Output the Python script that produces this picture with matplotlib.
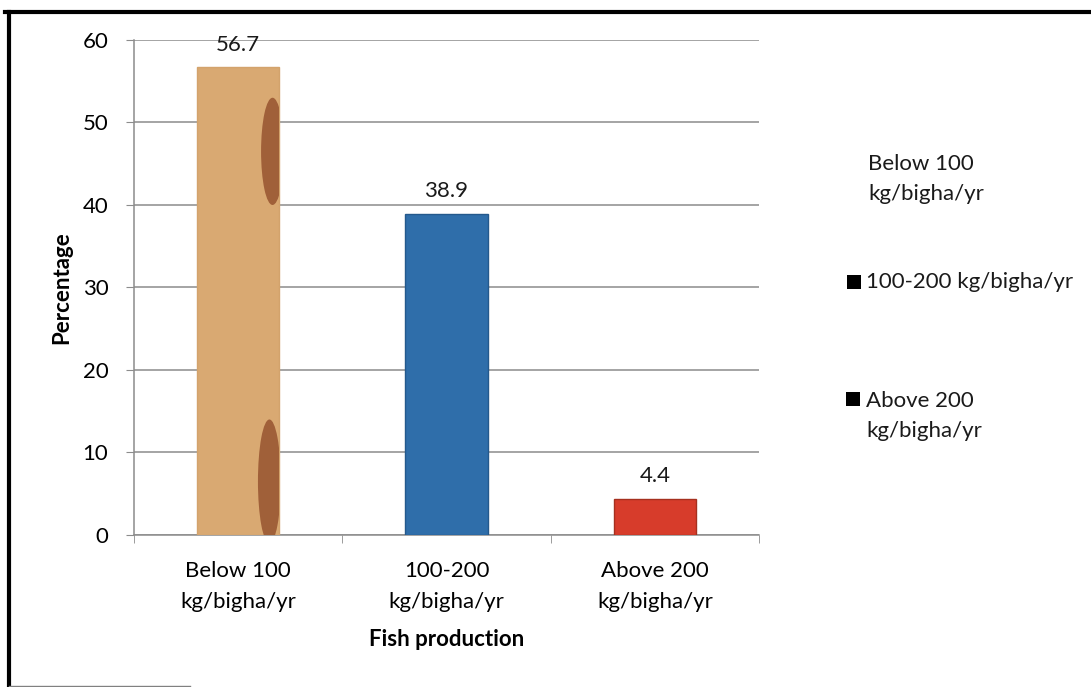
import matplotlib.pyplot as plt
from matplotlib.patches import Ellipse, Rectangle
from matplotlib.lines import Line2D

categories = ['Below 100\nkg/bigha/yr', '100-200\nkg/bigha/yr', 'Above 200\nkg/bigha/yr']
legend_labels = ['Below 100\nkg/bigha/yr', '100-200 kg/bigha/yr', 'Above 200\nkg/bigha/yr']
percentages = [56.7, 38.9, 4.4]
bar_colors = ['#d9a972', '#2f6eaa', '#d73c2b']
edge_colors = ['#d3a36c', '#24598c', '#a5301f']

plt.rcParams['font.family'] = ['Lato', 'DejaVu Sans']
fs = 16
ls = 1.65

fig = plt.figure(figsize=(10.91, 6.87), dpi=100)
ax = fig.add_axes([0.1228, 0.2213, 0.5729, 0.7205])

x = list(range(len(categories)))
bars = ax.bar(x, percentages, width=0.395, color=bar_colors,
              edgecolor=edge_colors, linewidth=1, zorder=3)

# brown streaks in the first bar's texture
for cx, cy, w, h in [(0.165, 46.5, 0.11, 13.0), (0.15, 6.5, 0.11, 15.0)]:
    e = Ellipse((cx, cy), w, h, facecolor='#8e4826', alpha=0.75,
                edgecolor='none', zorder=4)
    ax.add_patch(e)
    e.set_clip_path(bars[0])

for i, v in enumerate(percentages):
    ax.annotate(f'{v}', (i, v), xytext=(0, 12), textcoords='offset points',
                ha='center', va='baseline', fontsize=fs, color='#1a1a1a')

ax.set_xlim(-0.5, 2.5)
ax.set_ylim(0, 60)
ax.set_yticks(range(0, 61, 10))
ax.set_xticks(x)
ax.set_xticklabels(categories, linespacing=ls)
ax.set_xticks([-0.5, 0.5, 1.5, 2.5], minor=True)
ax.tick_params(axis='x', which='major', length=0, pad=19, labelsize=fs)
ax.tick_params(axis='x', which='minor', length=5.5, color='#8c8c8c')
ax.tick_params(axis='y', length=5.5, color='#8c8c8c', pad=13, labelsize=fs)
ax.grid(axis='y', color='#8c8c8c', linewidth=1.1)
ax.set_axisbelow(True)
for s in ['top', 'right']:
    ax.spines[s].set_visible(False)
for s in ['left', 'bottom']:
    ax.spines[s].set_color('#8c8c8c')
    ax.spines[s].set_linewidth(1.1)

ax.set_ylabel('Percentage', fontweight='bold', fontsize=fs, va='center')
ax.yaxis.set_label_coords(-0.115, 0.5)
ax.set_xlabel('Fish production', fontweight='bold', fontsize=fs, va='center')
ax.xaxis.set_label_coords(0.5, -0.212)

# legend entries on the right
W, H = 1091, 687
legend_pos = [(868, 179), (866, 282), (866, 416)]
marker_pos = [None, (847, 282), (846, 399)]
for label, (tx, ty), mp in zip(legend_labels, legend_pos, marker_pos):
    fig.text(tx / W, 1 - ty / H, label, ha='left', va='center',
             fontsize=fs, linespacing=ls, color='#1a1a1a')
    if mp is not None:
        fig.add_artist(Rectangle((mp[0] / W, 1 - (mp[1] + 7) / H), 14 / W, 14 / H,
                                 transform=fig.transFigure, facecolor='black',
                                 edgecolor='none'))

# frame around the figure
fig.add_artist(Line2D([5 / W, 1], [1 - 12 / H, 1 - 12 / H], transform=fig.transFigure,
                      color='black', lw=3))
fig.add_artist(Line2D([9 / W, 9 / W], [0, 1 - 12 / H], transform=fig.transFigure,
                      color='black', lw=3))
fig.add_artist(Line2D([9 / W, 190 / W], [1.5 / H, 1.5 / H], transform=fig.transFigure,
                      color='#808080', lw=1))

fig.savefig('out.png', dpi=100)
